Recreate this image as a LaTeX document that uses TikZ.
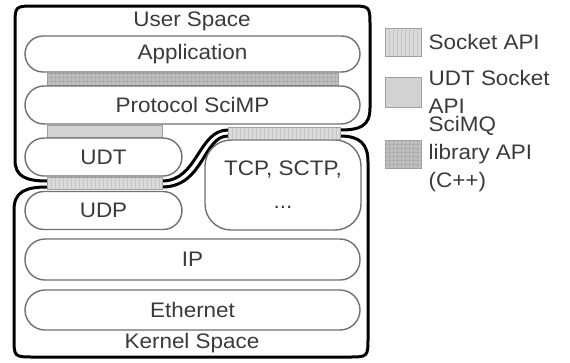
\documentclass[tikz,border=0pt]{standalone}
\usepackage{fontspec}
\setmainfont{Liberation Sans}[FakeStretch=1.07]
\definecolor{txt}{HTML}{3A3A3A}
\definecolor{boxline}{HTML}{707070}
\definecolor{barline}{HTML}{A0A0A0}
\definecolor{sockfill}{HTML}{DADADA}
\definecolor{sockhatch}{HTML}{C6C6C6}
\definecolor{udtfill}{HTML}{D2D2D2}
\definecolor{mqfill}{HTML}{C0C0C0}
\definecolor{mqhatch}{HTML}{ADADAD}
\tikzset{
  layer/.style={draw=boxline, line width=1.4pt, fill=white, rounded corners=#1,
    inner sep=0pt, text=txt, font=\fontsize{21}{24}\selectfont},
  layer/.default=18pt,
  outline/.style={draw=black, line width=3pt},
  sockbar/.style={draw=barline, line width=0.8pt, fill=sockfill, inner sep=0pt,
    path picture={\foreach \i in {1,...,40}{\draw[sockhatch, line width=0.6pt]
      ([xshift=\i*4pt]path picture bounding box.south west) -- ([xshift=\i*4pt]path picture bounding box.north west);}}},
  udtbar/.style={draw=barline, line width=0.8pt, fill=udtfill, inner sep=0pt},
  mqbar/.style={draw=barline, line width=0.8pt, fill=mqfill, inner sep=0pt,
    path picture={\foreach \i in {1,...,80}{\draw[mqhatch, line width=0.5pt]
      ([xshift=\i*4pt]path picture bounding box.south west) -- ([xshift=\i*4pt]path picture bounding box.north west);}
      \foreach \j in {1,...,8}{\draw[mqhatch, line width=0.5pt]
      ([yshift=\j*4pt]path picture bounding box.south west) -- ([yshift=\j*4pt]path picture bounding box.south east);}}},
  label/.style={text=txt, font=\fontsize{21}{24}\selectfont, inner sep=0pt},
  legtext/.style={text=txt, font=\fontsize{21}{28}\selectfont, inner sep=0pt, align=left, anchor=west},
}
\begin{document}
\begin{tikzpicture}[x=1pt,y=-1pt]
\useasboundingbox (0,0) rectangle (570,362);
% outer outlines
\draw[outline] (47,181) .. controls (25,181) and (15,176) .. (15,160)
  -- (15,26) .. controls (15,6) .. (35,6) -- (350,6) .. controls (370,6) .. (370,26)
  -- (370,108) .. controls (370,126) and (360,130) .. (340,130)
  -- (228,130) .. controls (198,130) and (198,181) .. (162,181) -- cycle;
\draw[outline] (47,187) .. controls (25,187) and (14,192) .. (14,210)
  -- (14,337) .. controls (14,357) .. (34,357) -- (348,357) .. controls (368,357) .. (368,337)
  -- (368,162) .. controls (368,144) and (360,136) .. (340,136)
  -- (228,136) .. controls (203,136) and (204,187) .. (162,187) -- cycle;
% titles
\node[label] (us) at (192,21) {User Space};
\node[label] (ks) at (192,343) {Kernel Space};
% layers
\node[layer, minimum width=335pt, minimum height=36pt] (app) at (192.5,54) {Application};
\node[mqbar, minimum width=291pt, minimum height=12pt] (mq) at (192.5,79.5) {};
\node[layer=19pt, minimum width=335pt, minimum height=38pt] (scimp) at (192.5,105) {Protocol SciMP};
\node[udtbar, minimum width=115pt, minimum height=12pt] (udtapi) at (104.5,131.5) {};
\node[layer=19pt, minimum width=157pt, minimum height=38pt] (udt) at (103.5,157) {UDT};
\node[sockbar, minimum width=115pt, minimum height=12pt] (sock1) at (104.5,183.5) {};
\node[layer=19pt, minimum width=157pt, minimum height=38pt] (udp) at (103.5,210.5) {UDP};
\node[layer=26pt, minimum width=156pt, minimum height=90pt, align=center,
  font=\fontsize{21}{33}\selectfont] (tcp) at (283,185) {TCP, SCTP,\\...};
\node[sockbar, minimum width=112pt, minimum height=12pt] (sock2) at (284,133) {};
\node[layer=20pt, minimum width=335pt, minimum height=41pt] (ip) at (192.5,259.5) {IP};
\node[layer=20pt, minimum width=335pt, minimum height=40pt] (eth) at (192.5,310) {Ethernet};
% legend
\node[sockbar, minimum width=36pt, minimum height=28pt] (lg1) at (403,42) {};
\node[udtbar, minimum width=36pt, minimum height=30pt] (lg2) at (403,92) {};
\node[mqbar, minimum width=36pt, minimum height=28pt] (lg3) at (403,154) {};
\node[legtext] (lt1) at ([xshift=7pt]lg1.east) {Socket API};
\node[legtext] (lt2) at ([xshift=7pt]lg2.east) {UDT Socket\\API};
\node[legtext] (lt3) at ([xshift=7pt]lg3.east) {SciMQ\\library API\\(C++)};
\end{tikzpicture}
\end{document}
